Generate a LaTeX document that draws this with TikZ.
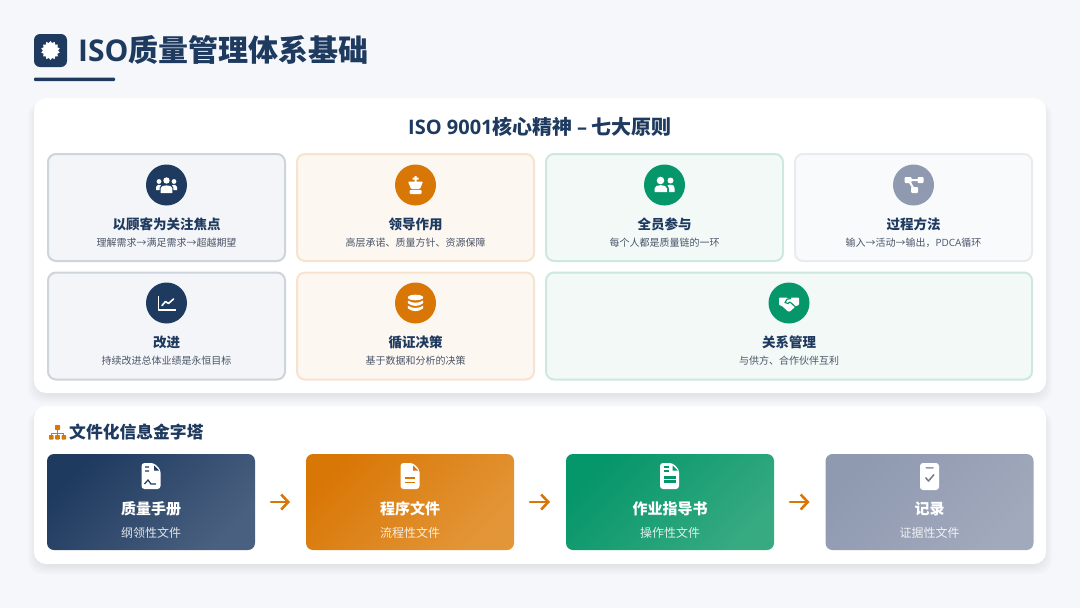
\documentclass[tikz,border=0pt]{standalone}
\usepackage{fontspec}
\setmainfont{Noto Sans CJK SC}
\newfontfamily\latinfont{Open Sans}
\usepackage{xcolor}
\usetikzlibrary{arrows.meta,shapes.geometric}
\definecolor{PageBg}{RGB}{245,247,251}
\definecolor{Navy}{RGB}{30,58,95}
\definecolor{NavyEnd}{RGB}{74,96,128}
\definecolor{Amber}{RGB}{217,119,6}
\definecolor{AmberEnd}{RGB}{227,150,56}
\definecolor{Jade}{RGB}{5,150,105}
\definecolor{JadeEnd}{RGB}{55,170,130}
\definecolor{Slate}{RGB}{143,153,176}
\definecolor{SlateEnd}{RGB}{161,169,188}
\definecolor{SubText}{RGB}{74,85,104}
\tikzset{
  cardbox/.style={draw,line width=2pt,rounded corners=8pt,minimum height=107pt,outer sep=0pt,inner sep=0pt},
  navycard/.style={cardbox,minimum width=237pt,fill={rgb,255:red,243;green,245;blue,248},draw={rgb,255:red,205;green,212;blue,219}},
  ambercard/.style={cardbox,minimum width=237pt,fill={rgb,255:red,253;green,247;blue,241},draw={rgb,255:red,248;green,227;blue,207}},
  jadecard/.style={cardbox,minimum width=237pt,fill={rgb,255:red,242;green,249;blue,247},draw={rgb,255:red,205;green,232;blue,223}},
  slatecard/.style={cardbox,minimum width=237pt,fill={rgb,255:red,249;green,250;blue,252},draw={rgb,255:red,233;green,235;blue,240}},
  iconcirc/.style={circle,minimum size=41pt,inner sep=0pt,outer sep=0pt},
  cardtitle/.style={text=Navy,inner sep=0pt,font=\fontsize{13.5}{16}\selectfont\bfseries},
  cardsub/.style={text=SubText,inner sep=0pt,font=\fontsize{10}{12}\selectfont},
  docbox/.style={rounded corners=7pt,minimum width=208pt,minimum height=96pt,outer sep=0pt,inner sep=0pt},
  boxtitle/.style={text=white,inner sep=0pt,font=\fontsize{15}{18}\selectfont\bfseries},
  boxsub/.style={text=white,text opacity=.85,inner sep=0pt,font=\fontsize{12}{14}\selectfont},
  flowarrow/.style={draw=Amber,line width=2.6pt,line cap=round,shorten >=16pt,shorten <=16pt,
    -{Straight Barb[length=7pt,width=15pt,line width=2.6pt]}},
}
% soft panel with its shadow
\newcommand{\softpanel}[4]{%
  \foreach \g in {10,8,6,4,2,0}{
    \fill[black,opacity=.014,rounded corners=14pt] (#1+4-\g,#2+4) rectangle (#3-4+\g,#4+\g);
  }
  \fill[white,rounded corners=12pt] (#1,#2) rectangle (#3,#4);
}
% white sheet with a folded corner, #1 = colour of the fold
\newcommand{\filesheet}[1]{%
  \fill[white,rounded corners=3pt] (-9.5,-13) -- (3,-13) -- (9.5,-6.5) -- (9.5,13) -- (-9.5,13) -- cycle;
  \fill[#1] (3.2,-10.5) -- (3.2,-5.5) -- (8,-5.5) -- cycle;
}
% one band of the data stack, #1 = upper edge
\newcommand{\stackband}[1]{%
  \fill[white] (-7.7,#1) .. controls (-3,#1+3) and (3,#1+3) .. (7.7,#1) -- (7.7,#1+2.6)
    .. controls (3,#1+6.4) and (-3,#1+6.4) .. (-7.7,#1+2.6) -- cycle;
}
\begin{document}
\begin{tikzpicture}[x=1pt,y=-1pt]
\useasboundingbox (0,0) rectangle (1080,608);
\fill[PageBg] (0,0) rectangle (1080,608);

% header
\node[fill=Navy,rounded corners=6pt,minimum size=33pt,inner sep=0pt] (logo) at (50.5,50.5) {};
\node[star,star points=14,star point ratio=1.25,fill=white,minimum size=19pt,inner sep=0pt] (logostar) at (logo) {};
\node[anchor=west,text=Navy,inner sep=0pt,font=\fontsize{30}{36}\selectfont\bfseries] (pagetitle) at (78,50) {{\latinfont ISO}质量管理体系基础};
\fill[Navy,rounded corners=1pt] (34,77.5) rectangle (115,81);

% panels
\softpanel{34}{98}{1046}{393}
\softpanel{34}{406}{1046}{564}

\node[text=Navy,inner sep=0pt,font=\fontsize{20}{24}\selectfont\bfseries] (principles) at (540,127) {{\latinfont ISO 9001}核心精神 {\latinfont –} 七大原则};

% first row
\node[navycard] (card1) at (166.5,207.5) {};
\node[ambercard] (card2) at (415.5,207.5) {};
\node[jadecard] (card3) at (664.5,207.5) {};
\node[slatecard] (card4) at (913.5,207.5) {};
% second row
\node[navycard] (card5) at (166.5,326) {};
\node[ambercard] (card6) at (415.5,326) {};
\node[jadecard,minimum width=486pt] (card7) at (789,326) {};

\node[iconcirc,fill=Navy] (circ1) at (166.5,185) {};
\node[iconcirc,fill=Amber] (circ2) at (415.5,185) {};
\node[iconcirc,fill=Jade] (circ3) at (664.5,185) {};
\node[iconcirc,fill=Slate] (circ4) at (913.5,185) {};
\node[iconcirc,fill=Navy] (circ5) at (166.5,303) {};
\node[iconcirc,fill=Amber] (circ6) at (415.5,303) {};
\node[iconcirc,fill=Jade] (circ7) at (789,303) {};

\node[cardtitle] (title1) at (166.5,224) {以顾客为关注焦点};
\node[cardsub] (sub1) at (166.5,243) {理解需求→满足需求→超越期望};
\node[cardtitle] (title2) at (415.5,224) {领导作用};
\node[cardsub] (sub2) at (415.5,243) {高层承诺、质量方针、资源保障};
\node[cardtitle] (title3) at (664.5,224) {全员参与};
\node[cardsub] (sub3) at (664.5,243) {每个人都是质量链的一环};
\node[cardtitle] (title4) at (913.5,224) {过程方法};
\node[cardsub] (sub4) at (913.5,243) {输入→活动→输出，{\latinfont PDCA}循环};
\node[cardtitle] (title5) at (166.5,342) {改进};
\node[cardsub] (sub5) at (166.5,361) {持续改进总体业绩是永恒目标};
\node[cardtitle] (title6) at (415.5,342) {循证决策};
\node[cardsub] (sub6) at (415.5,361) {基于数据和分析的决策};
\node[cardtitle] (title7) at (789,342) {关系管理};
\node[cardsub] (sub7) at (789,361) {与供方、合作伙伴互利};

% people
\begin{scope}[shift={(circ1)}]
  \fill[white] (0,-4.5) circle (3.2) (-7.5,-3.5) circle (2.4) (7.5,-3.5) circle (2.4);
  \fill[white] (-5.8,8) -- (-5.8,3) .. controls (-5.8,-.5) and (5.8,-.5) .. (5.8,3) -- (5.8,8) -- cycle;
  \fill[white] (-10.5,5) -- (-10.5,2) .. controls (-10.5,-.5) and (-7,-.8) .. (-5.5,.2) .. controls (-6.8,1.5) and (-7,3) .. (-7,5) -- cycle;
  \fill[white] (10.5,5) -- (10.5,2) .. controls (10.5,-.5) and (7,-.8) .. (5.5,.2) .. controls (6.8,1.5) and (7,3) .. (7,5) -- cycle;
\end{scope}
% chess piece
\begin{scope}[shift={(circ2)}]
  \fill[white] (-1,-9) rectangle (1,-3) (-3,-7.5) rectangle (3,-5.5);
  \fill[white,rounded corners=1pt] (-7.5,-3.5) -- (7.5,-3.5) -- (4.5,4) -- (-4.5,4) -- cycle;
  \fill[white,rounded corners=1pt] (-6,5) rectangle (6,9);
\end{scope}
% two users
\begin{scope}[shift={(circ3)}]
  \fill[white] (-4,-4.5) circle (3.8) (6,-4.5) circle (3);
  \fill[white] (-10,7) -- (-10,3.5) .. controls (-10,-1) and (2.5,-1) .. (2.5,3.5) -- (2.5,7) -- cycle;
  \fill[white] (4.5,7) -- (4.5,3) .. controls (4.5,1.5) and (3.5,.8) .. (3,.3) .. controls (5,-.8) and (10,-.8) .. (10,3) -- (10,7) -- cycle;
\end{scope}
% process diagram
\begin{scope}[shift={(circ4)}]
  \draw[white,line width=2pt] (-5,-5) -- (7,-5) (-5,-5) -- (1,5);
  \fill[white,rounded corners=1pt] (-9,-8) rectangle (-2,-2) (4,-8) rectangle (10,-2) (-2.5,2) rectangle (4.5,8);
\end{scope}
% chart line
\begin{scope}[shift={(circ5)}]
  \draw[white,line width=1.8pt,line join=round] (-8,-7) -- (-8,7) -- (9,7);
  \draw[white,line width=1.6pt,line join=round,line cap=round] (-4.5,2.5) -- (-1,-1.5) -- (2,.5) -- (7,-4);
\end{scope}
% data stack
\begin{scope}[shift={(circ6)}]
  \fill[white] (0,-5.5) ellipse (7.7 and 2.8);
  \stackband{-2.5}
  \stackband{2.7}
\end{scope}
% handshake
\begin{scope}[shift={(circ7)}]
  \fill[white,rounded corners=.8pt] (-10,-5.5) -- (-3,-5.5) -- (0,-4.5) -- (3,-5.5) -- (10,-5.5) -- (10,2) -- (7,3) -- (1,8.5) -- (-1,8.5) -- (-7,3) -- (-10,2) -- cycle;
  \draw[Jade,line width=1.2pt,line join=round] (2,-4.5) -- (-2,-3.8) -- (-4,-.5) -- (-1,.5) -- (1,-1) -- (6.5,4);
\end{scope}

% documents
\node[inner sep=0pt,minimum size=17pt] (treemark) at (57.5,432) {};
\draw[Amber,line width=1.1pt] (treemark.center) ++(0,-4) -- ++(0,8) (treemark.center) ++(-6,4) -- ++(0,-2.5) -- ++(12,0) -- ++(0,2.5);
\fill[Amber,rounded corners=.6pt] (55,425) rectangle (60,430) (49,435) rectangle (53.5,439.5) (55.2,435) rectangle (59.8,439.5) (61.5,435) rectangle (66,439.5);
\node[anchor=west,text=Navy,inner sep=0pt,font=\fontsize{16.8}{20}\selectfont\bfseries] (docheading) at (69,432) {文件化信息金字塔};

\node[docbox,top color=Navy,bottom color=NavyEnd,shading angle=45] (doc1) at (151,502) {};
\node[docbox,top color=Amber,bottom color=AmberEnd,shading angle=45] (doc2) at (410,502) {};
\node[docbox,top color=Jade,bottom color=JadeEnd,shading angle=45] (doc3) at (670,502) {};
\node[docbox,top color=Slate,bottom color=SlateEnd,shading angle=45] (doc4) at (929.5,502) {};

\draw[flowarrow] (doc1) -- (doc2);
\draw[flowarrow] (doc2) -- (doc3);
\draw[flowarrow] (doc3) -- (doc4);

\node[boxtitle] (doctitle1) at (151,509) {质量手册};
\node[boxsub] (docsub1) at (151,533) {纲领性文件};
\node[boxtitle] (doctitle2) at (410,509) {程序文件};
\node[boxsub] (docsub2) at (410,533) {流程性文件};
\node[boxtitle] (doctitle3) at (670,509) {作业指导书};
\node[boxsub] (docsub3) at (670,533) {操作性文件};
\node[boxtitle] (doctitle4) at (929.5,509) {记录};
\node[boxsub] (docsub4) at (929.5,533) {证据性文件};

% contract sheet
\begin{scope}[shift={(151,476)}]
  \filesheet{Navy}
  \draw[Navy,line width=1.2pt] (-6,-9) -- (-2,-9) (-6,-5) -- (-2,-5) (-6.5,8) -- (-3,4) -- (0,8) -- (5,8);
\end{scope}
% text sheet
\begin{scope}[shift={(410,476)}]
  \filesheet{Amber}
  \draw[Amber,line width=1.3pt] (-5,2) -- (5,2) (-5,6.5) -- (5,6.5);
\end{scope}
% table sheet
\begin{scope}[shift={(669.5,476)}]
  \filesheet{Jade}
  \draw[Jade,line width=1.2pt] (-6,-9) -- (-1,-9) (-6,-5) -- (-1,-5);
  \fill[Jade] (-6,0) rectangle (6,7);
  \fill[white] (-6,3) rectangle (6,4);
\end{scope}
% clipboard
\begin{scope}[shift={(929.5,476.5)}]
  \fill[white,rounded corners=3pt] (-9.5,-13.5) rectangle (9.5,13.5);
  \fill[Slate,rounded corners=.5pt] (-4,-9.5) rectangle (4,-8);
  \draw[Slate!80!black,line width=1.5pt,line join=round] (-4,1) -- (-1,4.5) -- (4.5,-2);
\end{scope}
\end{tikzpicture}
\end{document}
